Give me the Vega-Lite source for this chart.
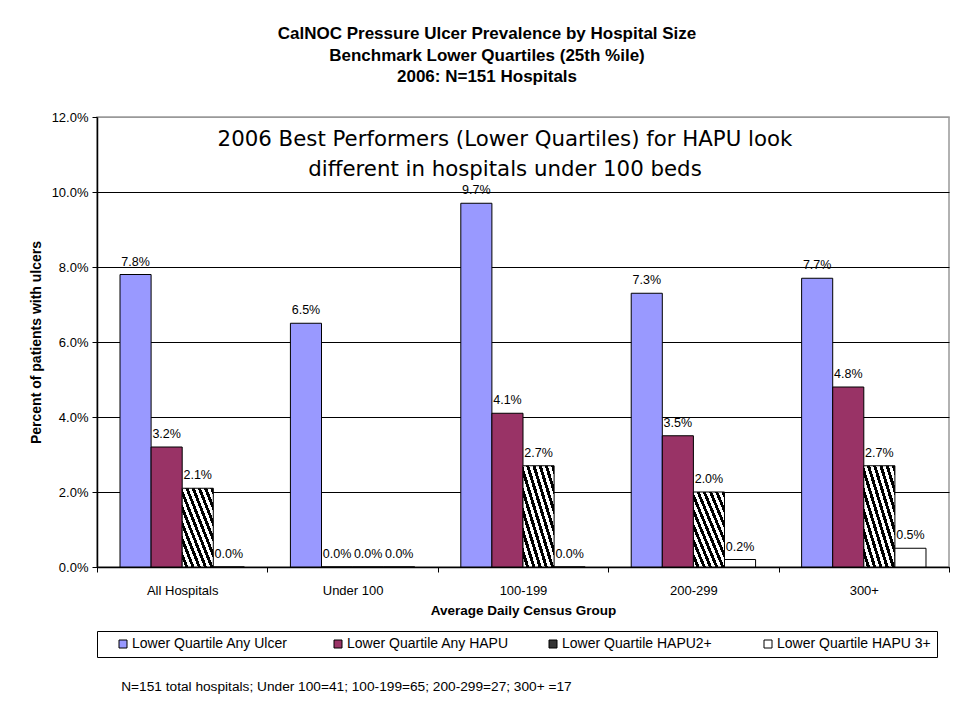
{
  "$schema": "https://vega.github.io/schema/vega-lite/v6.json",
  "autosize": {"type": "none"},
  "width": 852,
  "height": 450,
  "padding": {"left": 97, "top": 117, "right": 5, "bottom": 154},
  "background": "white",
  "config": {
    "font": "Liberation Sans",
    "view": {"stroke": "#999999", "strokeWidth": 1.5},
    "axis": {"labelFont": "Liberation Sans", "titleFont": "Liberation Sans", "labelColor": "black", "titleColor": "black", "domainColor": "black", "tickColor": "black"}
  },
  "title": {
    "text": ["CalNOC Pressure Ulcer Prevalence by Hospital Size", "Benchmark Lower Quartiles (25th %ile)", "2006: N=151 Hospitals"],
    "font": "Liberation Sans",
    "fontSize": 17,
    "fontWeight": "bold",
    "color": "black",
    "lineHeight": 21.5,
    "anchor": "middle",
    "frame": "group",
    "dx": -36,
    "offset": 25
  },
  "data": {
    "values": [
      {"group": "All Hospitals", "series": "Lower Quartile Any Ulcer", "value": 0.078},
      {"group": "All Hospitals", "series": "Lower Quartile Any HAPU", "value": 0.032},
      {"group": "All Hospitals", "series": "Lower Quartile HAPU2+", "value": 0.021},
      {"group": "All Hospitals", "series": "Lower Quartile HAPU 3+", "value": 0.0},
      {"group": "Under 100", "series": "Lower Quartile Any Ulcer", "value": 0.065},
      {"group": "Under 100", "series": "Lower Quartile Any HAPU", "value": 0.0},
      {"group": "Under 100", "series": "Lower Quartile HAPU2+", "value": 0.0},
      {"group": "Under 100", "series": "Lower Quartile HAPU 3+", "value": 0.0},
      {"group": "100-199", "series": "Lower Quartile Any Ulcer", "value": 0.097},
      {"group": "100-199", "series": "Lower Quartile Any HAPU", "value": 0.041},
      {"group": "100-199", "series": "Lower Quartile HAPU2+", "value": 0.027},
      {"group": "100-199", "series": "Lower Quartile HAPU 3+", "value": 0.0},
      {"group": "200-299", "series": "Lower Quartile Any Ulcer", "value": 0.073},
      {"group": "200-299", "series": "Lower Quartile Any HAPU", "value": 0.035},
      {"group": "200-299", "series": "Lower Quartile HAPU2+", "value": 0.02},
      {"group": "200-299", "series": "Lower Quartile HAPU 3+", "value": 0.002},
      {"group": "300+", "series": "Lower Quartile Any Ulcer", "value": 0.077},
      {"group": "300+", "series": "Lower Quartile Any HAPU", "value": 0.048},
      {"group": "300+", "series": "Lower Quartile HAPU2+", "value": 0.027},
      {"group": "300+", "series": "Lower Quartile HAPU 3+", "value": 0.005}
    ]
  },
  "encoding": {
    "x": {
      "field": "group",
      "type": "nominal",
      "sort": ["All Hospitals", "Under 100", "100-199", "200-299", "300+"],
      "scale": {"paddingInner": 0, "paddingOuter": 0},
      "axis": {
        "title": "Average Daily Census Group",
        "titleFontSize": 13.5,
        "titleFontWeight": "bold",
        "titlePadding": 6,
        "labelAngle": 0,
        "labelFontSize": 13,
        "labelPadding": 12,
        "tickBand": "extent",
        "tickSize": 5,
        "domainWidth": 1.5
      }
    }
  },
  "layer": [
    {
      "mark": {"type": "bar", "stroke": "black", "strokeWidth": 1},
      "encoding": {
        "xOffset": {
          "field": "series",
          "type": "nominal",
          "sort": ["Lower Quartile Any Ulcer", "Lower Quartile Any HAPU", "Lower Quartile HAPU2+", "Lower Quartile HAPU 3+"],
          "scale": {"paddingInner": 0, "paddingOuter": 0.74}
        },
        "y": {
          "field": "value",
          "type": "quantitative",
          "scale": {"domain": [0, 0.12], "nice": false},
          "axis": {
            "title": "Percent of patients with ulcers",
            "titleFontSize": 14,
            "titleFontWeight": "bold",
            "titlePadding": 8,
            "values": [0, 0.02, 0.04, 0.06, 0.08, 0.1, 0.12],
            "format": ".1%",
            "labelFontSize": 13,
            "labelPadding": 4,
            "tickSize": 5,
            "domainWidth": 1.5,
            "grid": true,
            "gridColor": {"condition": {"test": "datum.value >= 0.12", "value": "#999999"}, "value": "black"},
            "gridOpacity": 1,
            "gridWidth": 1
          }
        },
        "fill": {
          "field": "series",
          "type": "nominal",
          "sort": ["Lower Quartile Any Ulcer", "Lower Quartile Any HAPU", "Lower Quartile HAPU2+", "Lower Quartile HAPU 3+"],
          "scale": {"range": ["#9999FF", "#993366", "#333333", "#FFFFFF"]},
          "condition": {
            "test": "datum.series === 'Lower Quartile HAPU2+'",
            "value": {
              "gradient": "linear", "x1": 0, "y1": 1, "x2": 1, "y2": 0,
              "stops": [
                {"offset": 0, "color": "white"}, {"offset": 0.05, "color": "white"}, {"offset": 0.05, "color": "black"}, {"offset": 0.1, "color": "black"},
                {"offset": 0.1, "color": "white"}, {"offset": 0.15, "color": "white"}, {"offset": 0.15, "color": "black"}, {"offset": 0.2, "color": "black"},
                {"offset": 0.2, "color": "white"}, {"offset": 0.25, "color": "white"}, {"offset": 0.25, "color": "black"}, {"offset": 0.3, "color": "black"},
                {"offset": 0.3, "color": "white"}, {"offset": 0.35, "color": "white"}, {"offset": 0.35, "color": "black"}, {"offset": 0.4, "color": "black"},
                {"offset": 0.4, "color": "white"}, {"offset": 0.45, "color": "white"}, {"offset": 0.45, "color": "black"}, {"offset": 0.5, "color": "black"},
                {"offset": 0.5, "color": "white"}, {"offset": 0.55, "color": "white"}, {"offset": 0.55, "color": "black"}, {"offset": 0.6, "color": "black"},
                {"offset": 0.6, "color": "white"}, {"offset": 0.65, "color": "white"}, {"offset": 0.65, "color": "black"}, {"offset": 0.7, "color": "black"},
                {"offset": 0.7, "color": "white"}, {"offset": 0.75, "color": "white"}, {"offset": 0.75, "color": "black"}, {"offset": 0.8, "color": "black"},
                {"offset": 0.8, "color": "white"}, {"offset": 0.85, "color": "white"}, {"offset": 0.85, "color": "black"}, {"offset": 0.9, "color": "black"},
                {"offset": 0.9, "color": "white"}, {"offset": 0.95, "color": "white"}, {"offset": 0.95, "color": "black"}, {"offset": 1, "color": "black"}
              ]
            }
          },
          "legend": {
            "title": null,
            "orient": "bottom",
            "direction": "horizontal",
            "offset": 14,
            "strokeColor": "black",
            "padding": 6,
            "gridAlign": "all",
            "columnPadding": 24,
            "symbolOffset": 13,
            "symbolType": "square",
            "symbolSize": 64,
            "symbolStrokeColor": "black",
            "symbolStrokeWidth": 1,
            "symbolOpacity": 1,
            "labelFont": "Liberation Sans",
            "labelFontSize": 14,
            "labelColor": "black",
            "labelOffset": 2,
            "labelLimit": 300
          }
        }
      }
    },
    {
      "mark": {"type": "text", "font": "Liberation Sans", "fontSize": 12.5, "color": "black", "baseline": "alphabetic", "dy": -9},
      "encoding": {
        "xOffset": {
          "field": "series",
          "type": "nominal",
          "sort": ["Lower Quartile Any Ulcer", "Lower Quartile Any HAPU", "Lower Quartile HAPU2+", "Lower Quartile HAPU 3+"],
          "scale": {"paddingInner": 0, "paddingOuter": 0.74}
        },
        "y": {"field": "value", "type": "quantitative"},
        "text": {"field": "value", "type": "quantitative", "format": ".1%"}
      }
    },
    {
      "data": {"values": [{}]},
      "mark": {"type": "text", "font": "DejaVu Sans", "fontSize": 21.3, "color": "black", "align": "center", "baseline": "middle", "lineHeight": 30, "dx": -18, "text": ["2006 Best Performers (Lower Quartiles) for HAPU look", "different in hospitals under 100 beds"]},
      "encoding": {
        "x": {"datum": "100-199"},
        "y": {"datum": 0.1139}
      }
    },
    {
      "data": {"values": [{}]},
      "mark": {"type": "text", "font": "Liberation Sans", "fontSize": 13.7, "color": "black", "align": "left", "baseline": "middle", "dx": -61, "text": "N=151 total hospitals; Under 100=41; 100-199=65; 200-299=27; 300+ =17"},
      "encoding": {
        "x": {"datum": "All Hospitals"},
        "y": {"datum": -0.032}
      }
    }
  ]
}
